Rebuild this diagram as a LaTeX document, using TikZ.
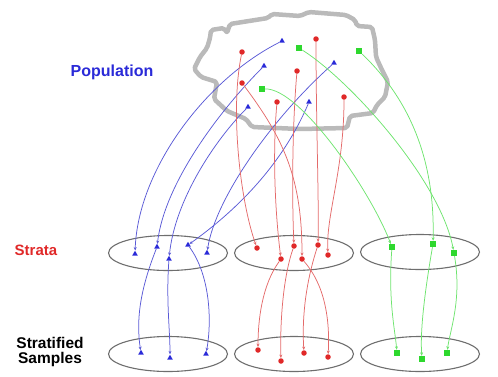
\documentclass[tikz,border=0pt]{standalone}
\usepackage{fontspec}
\setmainfont{Liberation Sans}
\usetikzlibrary{shapes.geometric,arrows.meta}
\definecolor{popblue}{HTML}{2A2AD8}
\definecolor{lineblue}{HTML}{5A5AD6}
\definecolor{popred}{HTML}{E02828}
\definecolor{linered}{HTML}{E46A6A}
\definecolor{popgreen}{HTML}{2ED82E}
\definecolor{linegreen}{HTML}{6EE46E}
\definecolor{cloudgray}{HTML}{BABABA}
\definecolor{rimgray}{HTML}{6E6E6E}
\tikzset{
  bmark/.style={regular polygon, regular polygon sides=3, fill=popblue, inner sep=0pt, minimum size=6.5pt},
  rmark/.style={circle, fill=popred, inner sep=0pt, minimum size=5.5pt},
  gmark/.style={rectangle, fill=popgreen, inner sep=0pt, minimum size=6pt},
  bline/.style={draw=lineblue, line width=0.75pt, -{Stealth[length=3.5pt,width=3pt]}},
  rline/.style={draw=linered, line width=0.75pt, -{Stealth[length=3.5pt,width=3pt]}},
  gline/.style={draw=linegreen, line width=0.75pt, -{Stealth[length=3.5pt,width=3pt]}},
  group/.style={ellipse, draw=rimgray, line width=1.1pt, minimum width=119pt, minimum height=35pt, inner sep=0pt},
  lbl/.style={font=\bfseries, inner sep=0pt}
}
\begin{document}
\begin{tikzpicture}[x=1pt, y=-1pt]
\useasboundingbox (0,0) rectangle (498,376);

% population outline
\draw[cloudgray, line width=4.5pt, rounded corners=2pt, line join=round]
  (211,30) -- (224,28) -- (227,33) -- (230,24) -- (268,18) -- (272,14) -- (300,16)
  -- (309,12) -- (346,15) -- (355,20) -- (357,26) -- (372,27) -- (375,40)
  -- (376,57) -- (382,70) -- (388,82) -- (385,97) -- (377,105) -- (373,113)
  -- (350,116) -- (347,128) -- (300,129) -- (252,127) -- (246,119) -- (227,111)
  -- (214,99) -- (217,82) -- (201,77) -- (194,69) -- (200,57) -- (207,48) -- (210,38) -- cycle;

% group ellipses
\node[group] (st1) at (168,253) {};
\node[group] (st2) at (294,253) {};
\node[group] (st3) at (420,252) {};
\node[group] (sa1) at (168,354) {};
\node[group] (sa2) at (294,354) {};
\node[group] (sa3) at (420,354) {};

% labels
\node[lbl, text=popblue, font=\fontsize{16}{18}\selectfont\bfseries] (lpop) at (112,72) {Population};
\node[lbl, text=popred, font=\fontsize{15}{17}\selectfont\bfseries] (lstr) at (36,250) {Strata};
\node[lbl, align=center, font=\fontsize{15.5}{16}\selectfont\bfseries] (lsam) at (50,352) {Stratified\\[-1pt]Samples};

% population members
\node[bmark] (b1) at (282,41) {};
\node[bmark] (b2) at (264,66) {};
\node[bmark] (b3) at (248,107) {};
\node[bmark] (b4) at (309,102) {};
\node[bmark] (b5) at (334,63) {};
\node[rmark] (r1) at (316,39) {};
\node[rmark] (r2) at (242,52) {};
\node[rmark] (r3) at (297,71) {};
\node[rmark] (r4) at (242,83) {};
\node[rmark] (r5) at (344,97) {};
\node[rmark] (r6) at (277,102) {};
\node[gmark] (g1) at (299,48) {};
\node[gmark] (g2) at (359,51) {};
\node[gmark] (g3) at (262,89) {};

% strata members
\node[bmark] (sb1) at (135,254) {};
\node[bmark] (sb2) at (157,247) {};
\node[bmark] (sb3) at (169,259) {};
\node[bmark] (sb4) at (188,245) {};
\node[bmark] (sb5) at (207,253) {};
\node[rmark] (sr1) at (257,248) {};
\node[rmark] (sr2) at (281,259) {};
\node[rmark] (sr3) at (294,246) {};
\node[rmark] (sr4) at (302,259) {};
\node[rmark] (sr5) at (318,245) {};
\node[rmark] (sr6) at (328,255) {};
\node[gmark] (sg1) at (392,247) {};
\node[gmark] (sg2) at (433,244) {};
\node[gmark] (sg3) at (454,253) {};

% sample members
\node[bmark] (pb1) at (141,353) {};
\node[bmark] (pb2) at (170,358) {};
\node[bmark] (pb3) at (206,354) {};
\node[rmark] (pr1) at (258,350) {};
\node[rmark] (pr2) at (281,361) {};
\node[rmark] (pr3) at (304,353) {};
\node[rmark] (pr4) at (328,357) {};
\node[gmark] (pg1) at (397,353) {};
\node[gmark] (pg2) at (422,359) {};
\node[gmark] (pg3) at (447,353) {};

% population -> strata
\draw[bline] (b1) .. controls (205,80) and (138,170) .. (sb1);
\draw[bline] (b2) .. controls (225,105) and (165,180) .. (sb2);
\draw[bline] (b3) .. controls (215,140) and (175,200) .. (sb3);
\draw[bline] (b4) .. controls (280,170) and (230,215) .. (sb4);
\draw[bline] (b5) .. controls (270,120) and (215,200) .. (sb5);

\draw[rline] (r2) .. controls (230,110) and (240,200) .. (sr1);
\draw[rline] (r6) .. controls (272,160) and (276,220) .. (sr2);
\draw[rline] (r3) .. controls (292,130) and (292,200) .. (sr3);
\draw[rline] (r4) .. controls (285,140) and (302,180) .. (sr4);
\draw[rline] (r1) .. controls (316,120) and (319,200) .. (sr5);
\draw[rline] (r5) .. controls (344,170) and (326,215) .. (sr6);

\draw[gline] (g3) .. controls (300,88) and (370,190) .. (sg1);
\draw[gline] (g2) .. controls (410,100) and (435,160) .. (sg2);
\draw[gline] (g1) .. controls (350,80) and (440,180) .. (sg3);

% strata -> samples
\draw[bline] (sb2) .. controls (140,290) and (136,320) .. (pb1);
\draw[bline] (sb3) .. controls (166,300) and (170,330) .. (pb2);
\draw[bline] (sb4) .. controls (210,275) and (212,320) .. (pb3);

\draw[rline] (sr2) .. controls (262,285) and (258,320) .. (pr1);
\draw[rline] (sr3) .. controls (282,280) and (280,330) .. (pr2);
\draw[rline] (sr5) .. controls (305,285) and (302,320) .. (pr3);
\draw[rline] (sr4) .. controls (325,285) and (330,320) .. (pr4);

\draw[gline] (sg1) .. controls (388,300) and (395,330) .. (pg1);
\draw[gline] (sg2) .. controls (425,290) and (420,330) .. (pg2);
\draw[gline] (sg3) .. controls (462,300) and (450,330) .. (pg3);
\end{tikzpicture}
\end{document}
